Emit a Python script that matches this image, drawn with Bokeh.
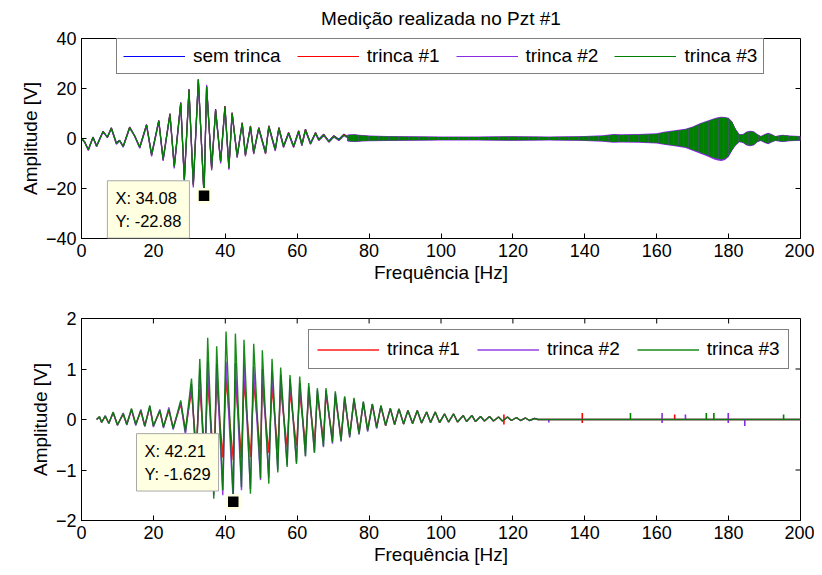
from bokeh.plotting import figure
from bokeh.models import Range1d, Legend, LegendItem, Label, FixedTicker
from bokeh.layouts import column
from bokeh.embed import file_html
from bokeh.resources import INLINE

# ---------------- data ----------------
xticks = [0, 20, 40, 60, 80, 100, 120, 140, 160, 180, 200]
top_yticks = [-40, -20, 0, 20, 40]
bot_yticks = [-2, -1, 0, 1, 2]
series_names = ["sem trinca", "trinca #1", "trinca #2", "trinca #3"]

# top panel: local extrema of the slow part (0-75 Hz)
top_x = [0, 0.9, 1.9, 3.2, 4.2, 6.0, 7.2, 8.3, 9.7, 10.6,
         11.6, 13.4, 14.8, 16.2, 18.1, 19.5, 21.5, 22.7, 24.6, 25.8,
         27.6, 28.6, 29.9, 31.1, 32.5, 34.08, 34.8, 36.2, 37.3, 38.7,
         39.9, 41.0, 41.9, 43.3, 44.7, 45.6, 47.0, 47.9, 49.3, 51.2,
         52.1, 53.9, 54.9, 56.2, 57.6, 59.0, 60.4, 61.3, 62.3, 63.7,
         65.1, 66.0, 67.4, 68.8, 70.2, 71.6, 73.0, 74.4]
top_sem = [0, -1.4, -4.4, 0.6, -2.9, 2.9, 0.6, 4.3, -1.8, -0.7,
           -3.1, 4.6, 1.1, -3.4, 5.6, -6.3, 7.3, -8.2, 10.0, -11.0,
           14.5, -16.2, 19.8, -18.2, 23.5, -22.2, 21.0, -11.6, 11.8, -8.9,
           13.0, -11.4, 10.4, -7.0, 6.4, -6.3, 5.1, -5.5, 4.4, -5.5,
           5.1, -4.3, 4.4, -3.0, 2.4, -3.0, 3.1, -2.3, 3.7, -1.8,
           2.4, -0.3, 1.7, -1.0, 1.1, -0.3, 1.7, 0.3]
top_t1 = [0, -1.5, -4.6, 0.5, -3.1, 2.8, 0.4, 4.2, -2.0, -0.8,
          -3.3, 4.5, 1.0, -3.6, 5.5, -6.7, 7.2, -8.6, 9.9, -11.5,
          14.3, -16.8, 19.6, -18.8, 23.6, -22.6, 20.9, -12.3, 11.6, -9.5,
          12.9, -12.1, 10.3, -7.4, 6.3, -6.8, 5.0, -6.0, 4.3, -6.0,
          5.0, -4.7, 4.3, -3.4, 2.3, -3.4, 3.0, -2.7, 3.6, -2.2,
          2.3, -0.7, 1.6, -1.4, 1.0, -0.7, 1.6, 0.2]
top_t2 = [0, -1.6, -4.8, 0.3, -3.3, 2.6, 0.3, 3.9, -2.3, -1.0,
          -3.5, 4.1, 0.8, -3.9, 5.0, -7.2, 6.6, -9.0, 9.2, -12.0,
          13.5, -17.5, 18.8, -19.6, 22.5, -22.5, 21.5, -12.8, 11.0, -10.0,
          12.0, -12.5, 9.6, -7.8, 5.6, -7.2, 4.4, -6.3, 3.8, -6.2,
          4.4, -5.0, 3.7, -3.6, 1.8, -3.6, 2.4, -2.9, 3.0, -2.3,
          1.8, -0.8, 1.1, -1.5, 0.6, -0.8, 1.1, 0.0]
top_t3 = [0, -1.5, -4.5, 0.5, -3.0, 2.8, 0.5, 4.1, -1.9, -0.8,
          -3.2, 4.4, 1.0, -3.5, 5.4, -6.5, 7.0, -8.4, 9.7, -11.2,
          14.1, -16.5, 19.4, -18.5, 23.8, -22.88, 20.7, -12.0, 11.4, -9.2,
          12.7, -11.8, 10.1, -7.2, 6.1, -6.6, 4.8, -5.8, 4.1, -5.8,
          4.8, -4.5, 4.1, -3.2, 2.1, -3.2, 2.8, -2.5, 3.4, -2.0,
          2.1, -0.5, 1.4, -1.2, 0.8, -0.5, 1.4, 0.2]

# top panel: envelope of the dense, fast oscillation (74-200 Hz)
band_x = [74, 76, 78, 80, 85, 90, 100, 110, 120, 130,
          138, 140, 145, 148, 150, 155, 160, 162, 165, 168,
          170, 172, 174, 176, 177, 178, 179, 180, 181, 182,
          183, 184, 185, 186, 187, 188, 189, 190, 191, 192,
          193, 195, 197, 200]
band_hi = [1.4, 1.5, 1.2, 1.0, 0.8, 0.7, 0.6, 0.6, 0.7, 0.6,
           0.7, 0.8, 1.0, 1.5, 1.4, 1.5, 1.8, 2.4, 3.0, 3.6,
           4.5, 5.8, 6.8, 7.8, 8.2, 8.4, 8.3, 8.0, 6.5, 3.5,
           1.5, 1.5, 2.5, 2.8, 2.6, 1.5, 0.8, 1.5, 2.0, 1.5,
           0.8, 1.3, 1.0, 0.8]
band_lo = [-1.0, -1.2, -1.0, -0.9, -0.8, -0.7, -0.6, -0.6, -0.7, -0.6,
           -0.7, -0.8, -1.0, -1.4, -1.3, -1.4, -1.7, -2.2, -2.8, -3.4,
           -4.5, -5.5, -6.6, -7.8, -8.1, -8.4, -8.0, -7.0, -4.5, -2.5,
           -1.2, -1.5, -2.5, -2.8, -2.5, -1.2, -0.8, -1.5, -2.0, -1.3,
           -0.8, -1.2, -0.9, -0.7]
band_hi_t2 = [1.6, 1.7, 1.4, 1.2, 1.0, 0.9, 0.8, 0.8, 0.9, 0.8,
              0.9, 1.0, 1.3, 1.8, 1.7, 1.8, 2.1, 2.7, 3.3, 3.9,
              4.8, 6.1, 7.1, 8.1, 8.5, 8.7, 8.6, 8.3, 6.8, 3.8,
              1.8, 1.8, 2.8, 3.1, 2.9, 1.8, 1.0, 1.8, 2.3, 1.8,
              1.0, 1.5, 1.2, 1.0]
band_lo_t2 = [-1.2, -1.4, -1.2, -1.1, -1.0, -0.9, -0.8, -0.8, -0.9, -0.8,
              -0.9, -1.0, -1.3, -1.7, -1.6, -1.7, -2.0, -2.5, -3.1, -3.8,
              -4.9, -6.0, -7.1, -8.4, -8.8, -9.0, -8.6, -7.4, -4.9, -2.8,
              -1.5, -1.8, -2.8, -3.1, -2.8, -1.5, -1.0, -1.8, -2.3, -1.6,
              -1.0, -1.4, -1.1, -0.9]

# bottom panel: local extrema
bot_x_head = [4.2, 5.0, 5.6, 6.6, 7.6, 8.8, 10.0, 11.6, 12.6, 13.9,
              15.1, 16.5, 17.6, 19.0, 20.0, 21.8, 22.8, 24.3, 25.5, 27.6,
              28.9, 30.6, 31.9, 32.9, 34.3, 35.1, 36.8, 37.6, 39.3, 40.2,
              42.21, 42.8, 44.5, 45.2, 47.0, 47.9, 49.8, 50.3, 52.1, 53.0,
              54.6, 55.4, 57.2, 58.0, 59.8, 60.7, 62.3, 63.2, 64.8, 65.6,
              67.3, 68.0, 69.8, 70.6, 72.2, 73.2, 74.6, 75.8, 77.2, 78.4,
              79.6, 80.9, 82.1, 83.3]
bot_t1_head = [0, 0.05, -0.05, 0.06, -0.07, 0.13, -0.10, 0.10, -0.09, 0.19,
               -0.09, 0.16, -0.12, 0.24, -0.12, 0.16, -0.14, 0.18, -0.16, 0.30,
               -0.20, 0.55, -0.55, 0.60, -0.65, 0.72, -0.78, 0.75, -0.75, 0.80,
               -0.80, 0.78, -0.75, 0.76, -0.74, 0.72, -0.68, 0.70, -0.66, 0.64,
               -0.60, 0.60, -0.55, 0.55, -0.52, 0.52, -0.48, 0.50, -0.45, 0.48,
               -0.40, 0.50, -0.38, 0.45, -0.35, 0.40, -0.30, 0.38, -0.25, 0.32,
               -0.20, 0.30, -0.15, 0.26]
bot_t2_head = [0, 0.05, -0.06, 0.08, -0.08, 0.14, -0.12, 0.13, -0.11, 0.20,
               -0.12, 0.20, -0.14, 0.26, -0.15, 0.20, -0.17, 0.24, -0.20, 0.34,
               -0.30, 0.70, -0.85, 1.00, -1.25, 1.15, -1.50, 1.10, -1.50, 1.15,
               -1.629, 1.12, -1.40, 1.10, -1.38, 1.05, -1.20, 1.00, -1.15, 0.95,
               -1.00, 0.88, -0.90, 0.80, -0.85, 0.72, -0.72, 0.65, -0.65, 0.58,
               -0.55, 0.58, -0.48, 0.52, -0.44, 0.44, -0.36, 0.40, -0.30, 0.34,
               -0.24, 0.30, -0.18, 0.27]
bot_t3_head = [0, 0.06, -0.06, 0.07, -0.08, 0.15, -0.11, 0.12, -0.10, 0.22,
               -0.10, 0.18, -0.13, 0.28, -0.13, 0.18, -0.15, 0.20, -0.18, 0.38,
               -0.24, 0.81, -0.90, 1.20, -1.20, 1.62, -1.57, 1.45, -1.40, 1.74,
               -1.55, 1.70, -1.34, 1.58, -1.47, 1.50, -1.17, 1.37, -1.27, 1.20,
               -1.05, 1.03, -0.94, 0.88, -0.88, 0.85, -0.73, 0.72, -0.66, 0.62,
               -0.53, 0.62, -0.45, 0.56, -0.42, 0.46, -0.34, 0.43, -0.28, 0.36,
               -0.22, 0.31, -0.16, 0.28]
bot_x_tail = [84.6, 85.9, 87.1, 88.3, 89.6, 90.8, 92.1, 93.4, 94.6, 96.0,
              97.1, 98.4, 99.6, 101.0, 102.1, 103.5, 104.6, 106.2, 107.1, 108.6,
              109.6, 111.0, 112.1, 113.5, 114.6, 116.0, 117.1, 118.5, 119.6, 121.0,
              122.1, 123.5, 124.6, 126.0, 127.0, 200.0]
bot_tail = [-0.12, 0.22, -0.10, 0.21, -0.09, 0.18, -0.08, 0.18, -0.07, 0.15,
            -0.06, 0.15, -0.06, 0.11, -0.05, 0.11, -0.05, 0.08, -0.04, 0.08,
            -0.04, 0.06, -0.03, 0.06, -0.03, 0.05, -0.03, 0.05, -0.02, 0.04,
            -0.02, 0.03, -0.02, 0.02, 0, 0]

# bottom panel: isolated spikes (x, top, bottom)
spk_t1_x = [117.5, 139.3, 165.0]
spk_t1_hi = [0.10, 0.13, 0.10]
spk_t1_lo = [-0.10, -0.07, 0.0]
spk_t2_x = [130.0, 161.5, 168.0, 179.9, 184.5]
spk_t2_hi = [0.0, 0.13, 0.10, 0.13, 0.0]
spk_t2_lo = [-0.06, -0.07, 0.0, -0.07, -0.13]
spk_t3_x = [152.7, 173.8, 175.9, 195.3]
spk_t3_hi = [0.13, 0.13, 0.13, 0.10]
spk_t3_lo = [0.0, 0.0, 0.0, 0.0]

# data tips
tip_top = (34.08, -22.88)
tip_bot = (42.21, -1.629)

# ---------------- styling ----------------
FONT = "Liberation Sans"
TICK_FS = "18px"
LAB_FS = "19px"
LEG_FS = "19px"
TIP_FS = "16.5px"
BLUE, RED, PURPLE, GREEN = "#0000ff", "#ff0000", "#8a2be2", "#008000"
TIPBG = "#ffffe1"


def make_fig(height, yr, yticks, btop, bbot, title=None):
    p = figure(width=814, height=height, x_range=Range1d(0, 200), y_range=Range1d(*yr),
               output_backend="svg", toolbar_location=None,
               min_border_left=81, min_border_right=14,
               min_border_top=btop, min_border_bottom=bbot,
               background_fill_color="white", border_fill_color="white")
    p.grid.visible = False
    p.outline_line_color = "black"
    p.outline_line_width = 1
    for ax, ticks in ((p.xaxis[0], xticks), (p.yaxis[0], yticks)):
        ax.ticker = FixedTicker(ticks=ticks)
        ax.major_tick_in = 5
        ax.major_tick_out = 0
        ax.minor_tick_in = 0
        ax.minor_tick_out = 0
        ax.axis_line_color = "black"
        ax.major_tick_line_color = "black"
        ax.major_label_text_font = FONT
        ax.major_label_text_font_size = TICK_FS
        ax.major_label_text_color = "black"
        ax.major_label_standoff = 5
        ax.axis_label_text_font = FONT
        ax.axis_label_text_font_size = LAB_FS
        ax.axis_label_text_font_style = "normal"
        ax.axis_label_text_color = "black"
        ax.axis_label_standoff = 2
    p.xaxis.axis_label = "Frequência [Hz]"
    p.yaxis.axis_label = "Amplitude [V]"
    # inward ticks on the top and right edges of the box
    p.ray(x=xticks, y=[yr[1]] * len(xticks), length=5, length_units="screen",
          angle=-90, angle_units="deg", line_color="black", line_width=1)
    p.ray(x=[200] * len(yticks), y=yticks, length=5, length_units="screen",
          angle=180, angle_units="deg", line_color="black", line_width=1)
    if title:
        p.title.text = title
        p.title.align = "center"
        p.title.vertical_align = "top"
        p.title.text_font = FONT
        p.title.text_font_size = LAB_FS
        p.title.text_font_style = "normal"
        p.title.text_color = "black"
        p.title.standoff = 15
    return p


def add_tip(p, tip, box_x, box_y):
    p.scatter(x=[tip[0]], y=[tip[1]], marker="square", size=13,
              fill_color="black", line_color=TIPBG, line_width=2.5)
    lab = Label(x=box_x, y=box_y, text="X: %.4g\nY: %.4g" % tip, level="overlay",
                text_font=FONT, text_font_size=TIP_FS, text_color="black",
                text_align="left", text_baseline="top", text_line_height=1.3,
                background_fill_color=TIPBG, background_fill_alpha=1,
                border_line_color="#a9a9a9", border_line_width=1, padding=8)
    p.add_layout(lab)


# ---------------- top panel ----------------
p1 = make_fig(295, (-40, 40), top_yticks, 37, 57, "Medição realizada no Pzt #1")

band_sets = [(BLUE, band_lo, band_hi), (RED, band_lo, band_hi),
             (PURPLE, band_lo_t2, band_hi_t2), (GREEN, band_lo, band_hi)]
top_series = [(BLUE, top_sem), (RED, top_t1), (PURPLE, top_t2), (GREEN, top_t3)]
top_renderers = []
for (col, ys), (bcol, lo, hi) in zip(top_series, band_sets):
    if bcol == GREEN:
        p1.varea(x=band_x, y1=lo, y2=hi, fill_color=bcol,
                 hatch_pattern="|", hatch_color=PURPLE, hatch_alpha=0.35,
                 hatch_scale=5, hatch_weight=1)
    else:
        p1.varea(x=band_x, y1=lo, y2=hi, fill_color=bcol)
    r = p1.line(top_x, ys, line_color=col, line_width=1.2)
    top_renderers.append(r)

# the data tip box is kept inside the frame (annotations are clipped to it)
add_tip(p1, tip_top, 7.2, -16.9)

leg1 = Legend(items=[LegendItem(label=n, renderers=[r]) for n, r in zip(series_names, top_renderers)],
              orientation="horizontal", location=(35, 164), margin=0,
              glyph_width=62, glyph_height=20, label_height=20, label_standoff=8,
              spacing=16, padding=6,
              label_text_font=FONT, label_text_font_size=LEG_FS, label_text_color="black",
              border_line_color="black", border_line_width=1, background_fill_alpha=1)
p1.add_layout(leg1)

# ---------------- bottom panel ----------------
p2 = make_fig(278, (-2, 2), bot_yticks, 23, 53)
bot_series = [(RED, bot_t1_head, spk_t1_x, spk_t1_lo, spk_t1_hi),
              (PURPLE, bot_t2_head, spk_t2_x, spk_t2_lo, spk_t2_hi),
              (GREEN, bot_t3_head, spk_t3_x, spk_t3_lo, spk_t3_hi)]
bot_renderers = []
for col, head, sx, slo, shi in bot_series:
    r = p2.line(bot_x_head + bot_x_tail, head + bot_tail, line_color=col, line_width=1.4,
                line_alpha=0.9)
    p2.segment(x0=sx, y0=slo, x1=sx, y1=shi, line_color=col, line_width=1.6)
    bot_renderers.append(r)

add_tip(p2, tip_bot, 15.3, -0.28)

leg2 = Legend(items=[LegendItem(label=n, renderers=[r]) for n, r in zip(series_names[1:], bot_renderers)],
              orientation="horizontal", location=(227, 151), margin=0,
              glyph_width=62, glyph_height=21, label_height=21, label_standoff=8,
              spacing=17, padding=8,
              label_text_font=FONT, label_text_font_size=LEG_FS, label_text_color="black",
              border_line_color="black", border_line_width=1, background_fill_alpha=1)
p2.add_layout(leg2)

layout = column(p1, p2, spacing=0)
open("out.html", "w").write(file_html(layout, INLINE))
